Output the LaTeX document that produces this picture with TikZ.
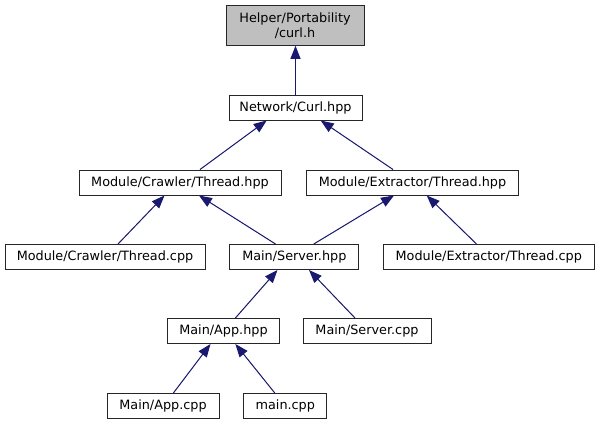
\documentclass[tikz,border=0pt]{standalone}
\usepackage{fontspec}
\setmainfont{DejaVu Sans}
\usetikzlibrary{positioning, arrows.meta}
\definecolor{edgeblue}{HTML}{191970}
\definecolor{rootgray}{HTML}{BFBFBF}

\begin{document}
\begin{tikzpicture}[x = 0.75pt, y = -0.75pt, line width = 0.75pt,
		file/.style={rectangle, draw = black!85, fill = white, inner sep = 0pt, minimum height = 18.75pt,
			font = \fontsize{9.6}{11.25}\selectfont},
		root/.style={file, fill = rootgray, minimum height = 30pt, align = center},
		arrow/.style={ -{Triangle[length = 9.75pt, width = 7.5pt]}, draw = edgeblue, fill = edgeblue}
	]
	
	\useasboundingbox (0, 0) rectangle (597, 425);
	
	\node[root, minimum width = 103.5pt] (curl) at (295, 25.3) {Helper/Portability\\/curl.h};
	
	\node[file, minimum width = 99.75pt] (curlhpp) at (295.5, 107.5) {Network/Curl.hpp};
	
	\node[file, minimum width = 151.5pt] (crawlerhpp) at (180, 182.5) {Module/Crawler/Thread.hpp};
	\node[file, minimum width = 159pt] (extractorhpp) at (412.5, 182.5) {Module/Extractor/Thread.hpp};
	
	\node[file, minimum width = 150pt] (crawlercpp) at (105, 257) {Module/Crawler/Thread.cpp};
	\node[file, minimum width = 97pt] (serverhpp) at (294.3, 257) {Main/Server.hpp};
	\node[file, minimum width = 158pt] (extractorcpp) at (488.8, 257) {Module/Extractor/Thread.cpp};
	
	\node[file, minimum width = 84pt] (apphpp) at (223.5, 331) {Main/App.hpp};
	\node[file, minimum width = 96pt] (servercpp) at (367, 331) {Main/Server.cpp};
	
	\node[file, minimum width = 84pt] (appcpp) at (163, 406) {Main/App.cpp};
	\node[file, minimum width = 62.25pt] (maincpp) at (285.3, 406) {main.cpp};
	
	\draw[arrow] (curlhpp.north) -- (curlhpp.north |- curl.south);
	\draw[arrow] ([shift={(20, 0)}]crawlerhpp.north) -- ([shift={(-28.8, 0)}]curlhpp.south);
	\draw[arrow] ([shift={(-19.5, 0)}]extractorhpp.north) -- ([shift={(25.2, 0)}]curlhpp.south);
	\draw[arrow] ([shift={(13, 0)}]crawlercpp.north) -- ([shift={(-15.5, 0)}]crawlerhpp.south);
	\draw[arrow] ([shift={(-18.8, 0)}]serverhpp.north) -- ([shift={(19, 0)}]crawlerhpp.south);
	\draw[arrow] ([shift={(19.5, 0)}]serverhpp.north) -- ([shift={(-18.5, 0)}]extractorhpp.south);
	\draw[arrow] ([shift={(-12.3, 0)}]extractorcpp.north) -- ([shift={(14.2, 0)}]extractorhpp.south);
	\draw[arrow] ([shift={(11.9, 0)}]apphpp.north) -- ([shift={(-16.8, 0)}]serverhpp.south);
	\draw[arrow] ([shift={(-12, 0)}]servercpp.north) -- ([shift={(14.7, 0)}]serverhpp.south);
	\draw[arrow] ([shift={(10.4, 0)}]appcpp.north) -- ([shift={(-13, 0)}]apphpp.south);
	\draw[arrow] ([shift={(-10.5, 0)}]maincpp.north) -- ([shift={(11.9, 0)}]apphpp.south);
	
\end{tikzpicture}
\end{document}
